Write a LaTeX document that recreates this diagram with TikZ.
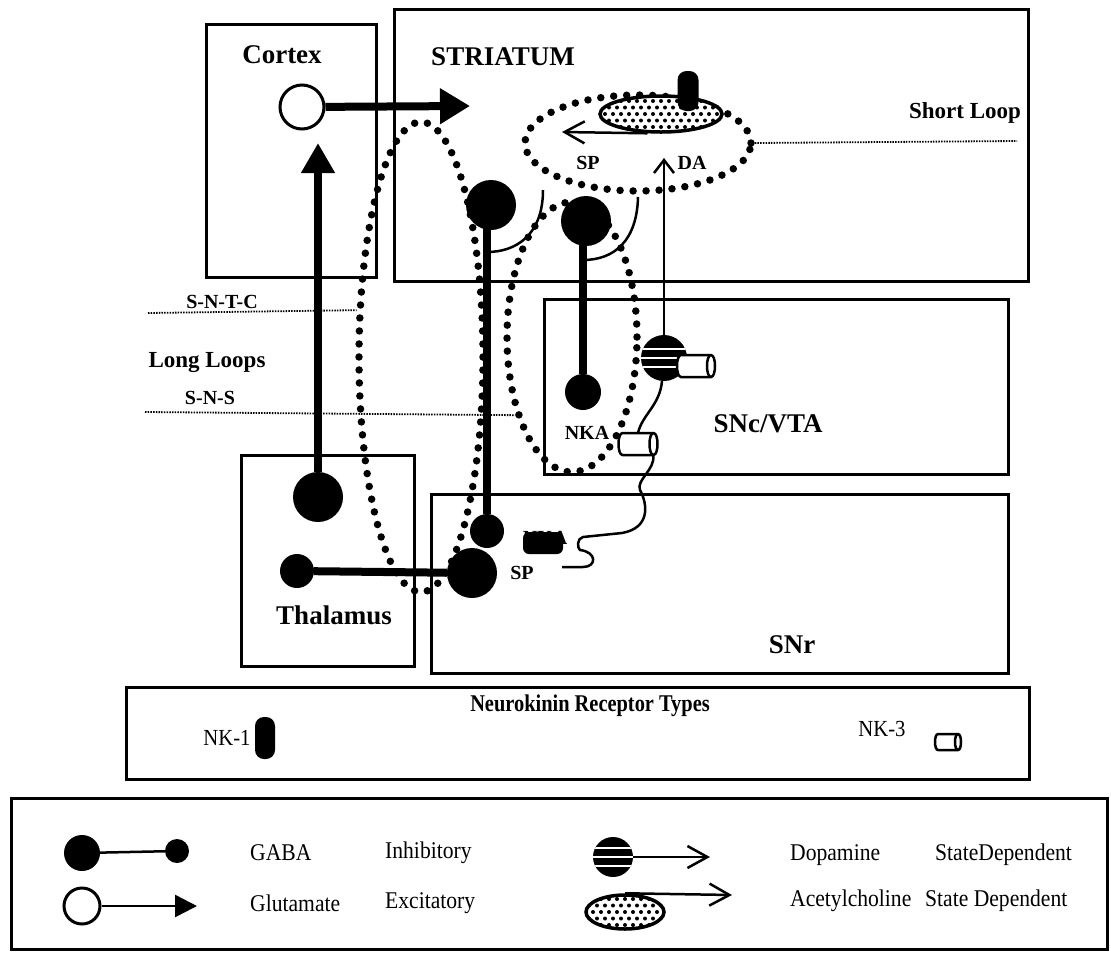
\documentclass[tikz,border=0pt]{standalone}
\usepackage{fontspec}
\setmainfont{Liberation Serif}
\newfontfamily\legfont[FakeStretch=0.9]{Liberation Serif}
\newfontfamily\condfont[FakeStretch=0.85]{Liberation Serif}
\usetikzlibrary{arrows.meta,shapes.geometric,calc}
\tikzset{pics/nkcyl/.style n args={3}{code={
  \pgfmathsetmacro\cylhl{#1}\pgfmathsetmacro\cylry{#2}\pgfmathsetmacro\cylrx{#3}
  \pgfmathsetmacro\cylxr{\cylhl-\cylrx}\pgfmathsetmacro\cylxl{-\cylhl+\cylrx}\pgfmathsetmacro\cylcx{4/3*\cylrx}
  \filldraw[fill=white, line width=2.5pt, line join=round] (\cylxr,-\cylry) -- (\cylxl,-\cylry)
     .. controls ({\cylxl-\cylcx},-\cylry) and ({\cylxl-\cylcx},\cylry) .. (\cylxl,\cylry) -- (\cylxr,\cylry)
     .. controls ({\cylxr+\cylcx},\cylry) and ({\cylxr+\cylcx},-\cylry) .. (\cylxr,-\cylry) -- cycle;
  \draw[line width=2.5pt] (\cylxr,-\cylry) .. controls ({\cylxr-\cylcx},-\cylry) and ({\cylxr-\cylcx},\cylry) .. (\cylxr,\cylry);
  \coordinate (-top) at (0,-\cylry);
  \coordinate (-bot) at (\cylxr,\cylry);
}}}
\begin{document}
\begin{tikzpicture}[x=1pt,y=-1pt,
  region/.style={draw, line width=3pt, inner sep=0pt, anchor=north west},
  lab/.style={font=\fontsize{27}{28}\selectfont\bfseries, inner sep=0pt},
  mlab/.style={font=\fontsize{23}{26}\selectfont\bfseries, inner sep=0pt},
  slab/.style={font=\fontsize{20}{22}\selectfont\bfseries, inner sep=0pt},
  leg/.style={font=\legfont\fontsize{24}{26}\selectfont, inner sep=0pt, anchor=west},
  gaba/.style={circle, fill=black, inner sep=0pt},
  glu/.style={circle, draw, fill=white, line width=3pt, inner sep=0pt},
  axon/.style={line width=8pt},
  wire/.style={line width=2.5pt},
  loopdots/.style={ellipse, draw, line width=7.5pt, dash pattern=on 0pt off 13pt, line cap=round, inner sep=0pt},
  finedots/.style={line width=1.8pt, dash pattern=on 1.5pt off 1.2pt},
  barb/.style={line width=2.5pt, -{Straight Barb[length=20pt,width=22pt]}},
  nkone/.style={fill=black, rounded corners=9pt, inner sep=0pt},
  stripes/.style={circle, fill=black, inner sep=0pt,
    path picture={\foreach \k in {-9,0,9}{\draw[white, line width=2.5pt] ($(path picture bounding box.center)+(-40,\k)$) -- ++(80,0);}}},
  achfill/.style={ellipse, draw, fill=white, line width=3.5pt, inner sep=0pt,
    path picture={\foreach \i in {-9,...,9}{\foreach \j in {-3,...,3}{\fill[black] ($(path picture bounding box.center)+({\i*8+mod(\j+10,2)*4},{\j*6.5})$) circle[radius=2pt];}}}}
]
\fill[white] (0,0) rectangle (1111,954);
\useasboundingbox (0,0) rectangle (1111,954);

% region boxes
\node[region, minimum width=170pt, minimum height=253pt] (cortexbox) at (205,23) {};
\node[region, minimum width=634pt, minimum height=272pt] (striatumbox) at (393,8) {};
\node[region, minimum width=464pt, minimum height=175pt] (sncbox) at (543,298) {};
\node[region, minimum width=577pt, minimum height=179pt] (snrbox) at (430,493) {};
\node[region, minimum width=173pt, minimum height=211pt] (thalbox) at (240,454) {};
\node[region, minimum width=903pt, minimum height=92pt] (nkbox) at (125,686) {};
\node[region, minimum width=1096pt, minimum height=151pt] (legbox) at (10,797) {};

% region labels
\node[lab] (lcortex) at (282,55) {Cortex};
\node[lab] (lstriatum) at (503,57) {STRIATUM};
\node[mlab] (lshort) at (965,113) {Short Loop};
\node[mlab] (llong) at (207,362) {Long Loops};
\node[slab] (lsntc) at (222,302) {S-N-T-C};
\node[slab] (lsns) at (210,398) {S-N-S};
\node[lab] (lsnc) at (768,424) {SNc/VTA};
\node[lab] (lthal) at (334,615) {Thalamus};
\node[lab] (lsnr) at (792,645) {SNr};

% loops
\node[loopdots, minimum width=226pt, minimum height=96pt] (shortloop) at (638,143) {};
\node[loopdots, minimum width=124pt, minimum height=470pt] (longA) at (421,357) {};
\node[loopdots, minimum width=130pt, minimum height=270pt] (longB) at (572,337) {};
\coordinate (shortEnd) at (1017,141);
\coordinate (sntcL) at (148,313);
\coordinate (snsL) at (145,412);
\draw[finedots] (shortloop.east) -- (shortEnd);
\draw[finedots] (sntcL) -- (longA.144);
\draw[finedots] (snsL) -- (longB.234);

% cells
\node[glu, minimum size=44pt] (ctx) at (302,107) {};
\coordinate (ctxTip) at (470,106);
\node[gaba, minimum size=50pt] (thB) at (318,497) {};
\coordinate (thTip) at (318,143);
\node[gaba, minimum size=34pt] (thS) at (297,571) {};
\node[gaba, minimum size=50pt] (snrB) at (472,573) {};
\node[gaba, minimum size=34pt] (snrS) at (487,531) {};
\node[gaba, minimum size=50pt] (strA) at (491,205) {};
\node[gaba, minimum size=50pt] (strB) at (586,221) {};
\node[gaba, minimum size=36pt] (sncN) at (583,392) {};
\node[stripes, minimum size=46pt] (da) at (664,358) {};
\coordinate (daTip) at (664,158);

\draw[axon, -{Triangle[length=30pt,width=34pt]}] (ctx) -- (ctxTip);
\draw[axon, -{Triangle[length=30pt,width=32pt]}] (thB) -- (thTip);
\draw[axon] (thS) -- (snrB);
\draw[axon] (snrS) -- (snrS |- strA);
\draw[axon] (sncN) -- (sncN |- strB);

% dendrites
\draw[wire] ($(strA)+(52,-15)$) .. controls ($(strA)+(52,30)$) and ($(strA)+(25,47)$) .. ($(strA)+(-4,47)$);
\draw[wire] ($(strB)+(52,-24)$) .. controls ($(strB)+(51,20)$) and ($(strB)+(28,39)$) .. ($(strB)+(-3,39)$);

% acetylcholine interneuron
\node[achfill, minimum width=122pt, minimum height=36pt] (ach) at (661,114) {};
\node[nkone, minimum width=21pt, minimum height=40pt] (nkach) at (688,91) {};
\coordinate (spTip) at (562,132);
\draw[barb] (ach.235) -- (spTip);
\node[slab] (lsp1) at (588,163) {SP};
\node[slab] (lda) at (692,163) {DA};

% dopamine cell
\draw[wire, -{Straight Barb[length=13pt,width=20pt]}] (da) -- (daTip);
\pic (cylA) at (696,366) {nkcyl={19}{11}{4}};
\pic (cylB) at (638,444) {nkcyl={19.5}{11}{4}};
\draw[wire] (da.-95) .. controls (660,405) and (642,415) .. (cylB-top);
\coordinate (spEnd) at (562,567);
\draw[wire] (cylB-bot) .. controls (655,470) and (636,480) .. (640,490)
  .. controls (648,505) and (650,528) .. (622,533) -- (583,537)
  .. controls (577,538) and (577,548) .. (580,550)
  .. controls (597,552) and (597,567) .. (583,567) -- (spEnd);
\node[slab] (lnka) at (587,433) {NKA};

% SNr NK-1 with NKA
\node[slab] (lnka2) at (545,538) {NKA};
\node[nkone, rounded corners=6pt, minimum width=40pt, minimum height=22pt] (nksnr) at (543,543) {};
\node[slab] (lsp2) at (522,573) {SP};

% neurokinin receptor types
\node[font=\condfont\fontsize{24}{26}\selectfont\bfseries, inner sep=0pt] (nktitle) at (590,706) {Neurokinin Receptor Types};
\node[font=\legfont\fontsize{23}{24}\selectfont, inner sep=0pt] (lnk1) at (227,738) {NK-1};
\node[nkone, minimum width=20pt, minimum height=42pt] (nk1sym) at (265,738) {};
\node[font=\legfont\fontsize{23}{24}\selectfont, inner sep=0pt] (lnk3) at (882,729) {NK-3};
\pic (nk3sym) at (948,742) {nkcyl={13}{8}{3}};

% legend
\node[gaba, minimum size=36pt] (lgA) at (82,853) {};
\node[gaba, minimum size=24pt] (lgB) at (177,851) {};
\draw[wire] (lgA) -- (lgB);
\node[glu, minimum size=36pt] (lgC) at (82,906) {};
\coordinate (lgCtip) at (197,906);
\draw[wire, -{Triangle[length=22pt,width=22pt]}] (lgC) -- (lgCtip);
\node[stripes, minimum size=40pt] (lgD) at (613,857) {};
\coordinate (lgDtip) at (710,857);
\draw[barb] (lgD) -- (lgDtip);
\node[achfill, minimum width=78pt, minimum height=34pt] (lgE) at (625,912) {};
\coordinate (lgEtip) at (732,895);
\draw[barb] (lgE.north) -- (lgEtip);

\node[leg] (tgaba) at (250,853) {GABA};
\node[leg] (tinh) at (385,853) {Inhibitory};
\node[leg] (tglu) at (250,903) {Glutamate};
\node[leg] (texc) at (385,903) {Excitatory};
\node[leg] (tdop) at (790,855) {Dopamine};
\node[leg] (tsd1) at (935,855) {StateDependent};
\node[leg] (tach) at (790,901) {Acetylcholine};
\node[leg] (tsd2) at (925,901) {State Dependent};
\end{tikzpicture}
\end{document}
